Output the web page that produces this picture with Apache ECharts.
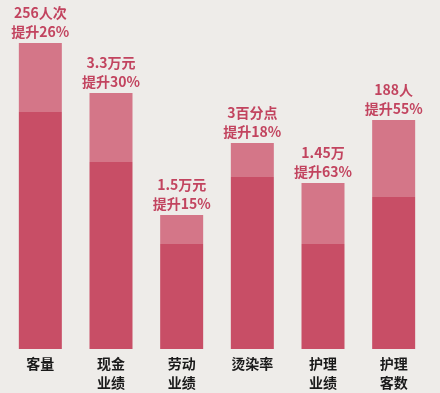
<!DOCTYPE html>
<html><head><meta charset="utf-8">
<style>html,body{margin:0;padding:0;background:#eeece9;}#c{width:440px;height:393px;}</style>
<script src="https://cdn.jsdelivr.net/npm/echarts@6/dist/echarts.min.js"></script>
</head><body><div id="c"></div>
<script>
const categories = ['客量', '现金\n业绩', '劳动\n业绩', '烫染率', '护理\n业绩', '护理\n客数'];
const baseValues = [237, 187, 105, 172, 105, 152];
const increaseValues = [69, 69, 29, 34, 61, 77];
const labelLine1 = ['256人次', '3.3万元', '1.5万元', '3百分点', '1.45万', '188人'];
const labelLine2 = ['提升26%', '提升30%', '提升15%', '提升18%', '提升63%', '提升55%'];

const chart = echarts.init(document.getElementById('c'));
chart.setOption({
  backgroundColor: '#eeece9',
  animation: false,
  grid: {left: 5, right: 11, top: 0, bottom: 44},
  xAxis: {
    type: 'category', data: categories,
    axisLine: {show: false}, axisTick: {show: false},
    axisLabel: {color: '#1a1a1a', fontSize: 14, fontWeight: 'bold', lineHeight: 19, margin: 5,
      fontFamily: '"Noto Sans CJK SC", sans-serif'}
  },
  yAxis: {type: 'value', min: 0, max: 349, show: false, splitLine: {show: false}},
  series: [
    {type: 'bar', stack: 's', data: baseValues, barWidth: 43,
     itemStyle: {color: '#c84e66'}},
    {type: 'bar', stack: 's', data: increaseValues, barWidth: 43,
     itemStyle: {color: '#d47688'},
     label: {show: true, position: 'top', distance: 2, color: '#c2445f',
       fontSize: 14, fontWeight: 'bold', lineHeight: 19,
       fontFamily: '"Noto Sans CJK SC", sans-serif',
       formatter: p => labelLine1[p.dataIndex] + '\n' + labelLine2[p.dataIndex]}}
  ]
});
</script></body></html>
